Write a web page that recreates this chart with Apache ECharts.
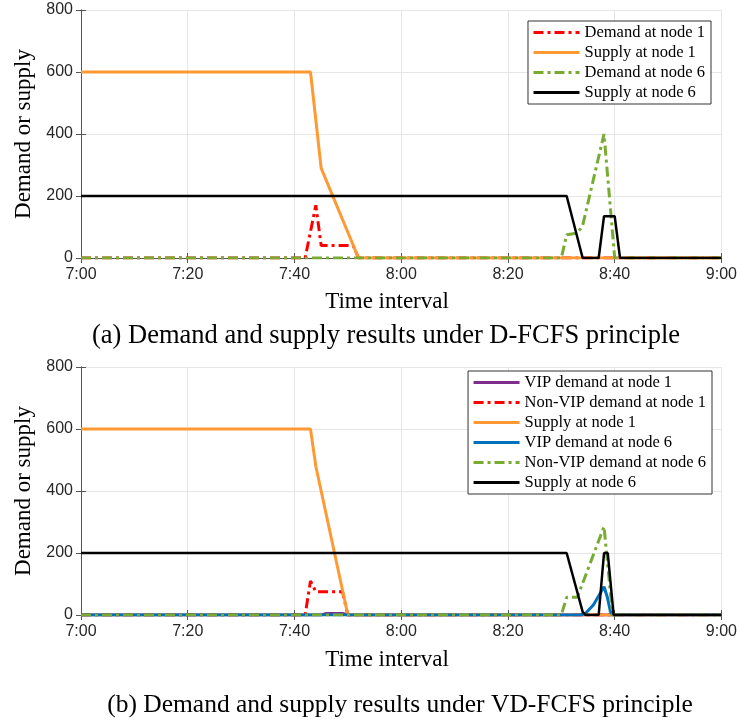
<!DOCTYPE html>
<html>
<head>
<meta charset="utf-8">
<script src="https://cdn.jsdelivr.net/npm/echarts@6/dist/echarts.min.js"></script>
<style>
html, body { margin: 0; padding: 0; background: #fff; }
#main { width: 740px; height: 722px; }
</style>
</head>
<body>
<div id="main"></div>
<script>
// x is minutes after 7:00
const xTicks = ['7:00', '7:20', '7:40', '8:00', '8:20', '8:40', '9:00'];
const yTicks = [0, 200, 400, 600, 800];

// (a) D-FCFS
const aDemand1 = [[0, 0], [42, 0], [44, 170], [45, 40], [51, 40], [52, 0], [120, 0]];
const aSupply1 = [[0, 600], [43, 600], [45, 290], [52, 0], [120, 0]];
const aDemand6 = [[0, 0], [90, 0], [91, 75], [93, 80], [94, 105], [98, 400], [100, 0], [120, 0]];
const aSupply6 = [[0, 200], [91, 200], [94, 0], [97, 0], [98, 135], [100, 135], [101, 0], [120, 0]];

// (b) VD-FCFS
const bVip1 = [[0, 0], [45, 0], [46, 5], [49, 5], [50, 0], [120, 0]];
const bNonVip1 = [[0, 0], [42, 0], [43, 110], [44, 75], [49, 75], [50, 0], [120, 0]];
const bSupply1 = [[0, 600], [43, 600], [44, 480], [50, 0], [120, 0]];
const bVip6 = [[0, 0], [93.5, 0], [94.5, 5], [96, 32], [98, 91], [98.6, 59], [99.2, 11], [99.6, 0], [120, 0]];
const bNonVip6 = [[0, 0], [90, 0], [91, 57], [93, 57], [98, 285], [99.6, 0], [120, 0]];
const bSupply6 = [[0, 200], [91, 200], [94, 10], [94.5, 0], [97, 0], [98, 200], [98.7, 200], [99.8, 0], [120, 0]];

const serif = 'Liberation Serif';
const axisGray = '#555';
const dashDot = [10, 4, 3, 4];

function bottomX(grid) {
  return {
    type: 'value', gridIndex: grid, min: 0, max: 120, interval: 20,
    axisLine: { lineStyle: { color: axisGray } },
    axisTick: { inside: true, length: 5, lineStyle: { color: axisGray } },
    axisLabel: { color: '#262626', fontSize: 16, fontFamily: 'Liberation Sans', margin: 9,
      formatter: function (v) { return xTicks[v / 20]; } },
    splitLine: { show: true, lineStyle: { color: '#e6e6e6' } }
  };
}
function topX(grid) {
  return {
    type: 'value', gridIndex: grid, position: 'top', min: 0, max: 120, interval: 20,
    axisLine: { show: true, lineStyle: { color: axisGray } },
    axisTick: { show: true, inside: true, length: 5, lineStyle: { color: axisGray } },
    axisLabel: { show: false }, splitLine: { show: false }
  };
}
function leftY(grid) {
  return {
    type: 'value', gridIndex: grid, min: 0, max: 800, interval: 200,
    name: 'Demand or supply', nameLocation: 'middle', nameGap: 46,
    nameTextStyle: { fontFamily: serif, fontSize: 23, color: '#000' },
    axisLine: { show: true, lineStyle: { color: axisGray } },
    axisTick: { show: true, inside: true, length: 5, lineStyle: { color: axisGray } },
    axisLabel: { color: '#262626', fontSize: 16, fontFamily: 'Liberation Sans', margin: 8,
      formatter: function (v) { return yTicks.indexOf(v) >= 0 ? String(v) : ''; } },
    splitLine: { show: true, lineStyle: { color: '#e6e6e6' } }
  };
}
function rightY(grid) {
  return {
    type: 'value', gridIndex: grid, position: 'right', min: 0, max: 800, interval: 200,
    axisLine: { show: true, lineStyle: { color: axisGray } },
    axisTick: { show: true, inside: true, length: 5, lineStyle: { color: axisGray } },
    axisLabel: { show: false }, splitLine: { show: false }
  };
}
function line(name, data, color, grid, dashed, width) {
  return {
    name: name, type: 'line', data: data, xAxisIndex: grid * 2, yAxisIndex: grid * 2,
    symbol: 'none', silent: true,
    lineStyle: { color: color, width: width || 3, type: dashed ? dashDot : 'solid' },
    itemStyle: { color: color }
  };
}
function legend(top, right, names) {
  return {
    orient: 'vertical', top: top, right: right, data: names,
    itemWidth: 46, itemHeight: 14, itemGap: 3,
    padding: [3, 6, 3, 4],
    borderColor: '#333', borderWidth: 1, backgroundColor: '#fff',
    selectedMode: false,
    itemStyle: { opacity: 0, color: 'rgba(0,0,0,0)', borderWidth: 0 },
    lineStyle: { width: 3 },
    textStyle: { fontFamily: serif, fontSize: 16.5, color: '#000', lineHeight: 17 }
  };
}
function text(t, x, y, size) {
  return {
    type: 'text', x: x, y: y, silent: true,
    style: { text: t, fontFamily: serif, fontSize: size, fill: '#000',
      textAlign: 'center', align: 'center', textVerticalAlign: 'middle', verticalAlign: 'middle' }
  };
}

const chart = echarts.init(document.getElementById('main'));
chart.setOption({
  animation: false,
  grid: [
    { left: 81, right: 17, top: 10, height: 248 },
    { left: 81, right: 17, top: 367, height: 248 }
  ],
  xAxis: [bottomX(0), topX(0), bottomX(1), topX(1)],
  yAxis: [leftY(0), rightY(0), leftY(1), rightY(1)],
  legend: [
    legend(21, 29, ['Demand at node 1', 'Supply at node 1', 'Demand at node 6', 'Supply at node 6']),
    legend(371, 28, ['VIP demand at node 1', 'Non-VIP demand at node 1', 'Supply at node 1',
      'VIP demand at node 6', 'Non-VIP demand at node 6', 'Supply at node 6'])
  ],
  series: [
    line('Demand at node 1', aDemand1, '#FF0000', 0, true),
    line('Supply at node 1', aSupply1, '#FF9933', 0, false),
    line('Demand at node 6', aDemand6, '#77AC30', 0, true),
    line('Supply at node 6', aSupply6, '#000000', 0, false, 2.5),
    line('VIP demand at node 1', bVip1, '#7E2F8E', 1, false),
    line('Non-VIP demand at node 1', bNonVip1, '#FF0000', 1, true),
    line('Supply at node 1', bSupply1, '#FF9933', 1, false),
    line('VIP demand at node 6', bVip6, '#0072BD', 1, false),
    line('Non-VIP demand at node 6', bNonVip6, '#77AC30', 1, true),
    line('Supply at node 6', bSupply6, '#000000', 1, false, 2.5)
  ],
  graphic: [
    text('Time interval', 387, 302, 23),
    text('(a) Demand and supply results under D-FCFS principle', 386, 336, 26.5),
    text('Time interval', 387, 660, 23),
    text('(b) Demand and supply results under VD-FCFS principle', 400, 705, 25.5)
  ]
});
</script>
</body>
</html>
